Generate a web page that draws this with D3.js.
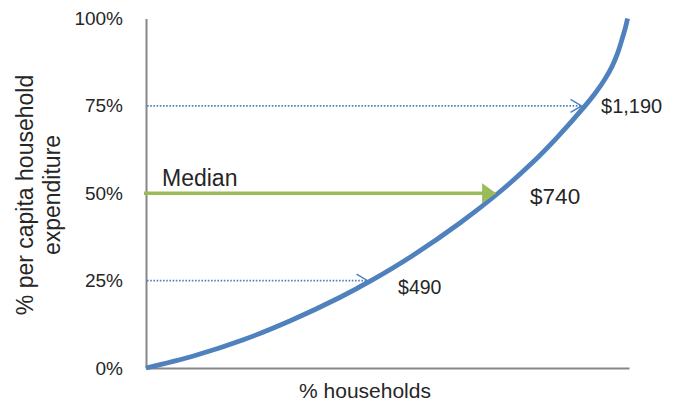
<!DOCTYPE html>
<html>
<head>
<meta charset="utf-8">
<script src="https://cdn.jsdelivr.net/npm/d3@7/dist/d3.min.js"></script>
<style>
  html, body { margin: 0; padding: 0; background: #ffffff; }
  svg { display: block; }
  text { font-family: "Liberation Sans", Arial, sans-serif; fill: #262626; }
</style>
</head>
<body>
<svg id="chart" width="681" height="405"></svg>
<script>
// Cumulative curve: share of households (x) vs share of per capita expenditure (y)
const householdPct = [0, 10, 20, 30, 40, 46.6, 55, 65, 72.9, 79.8, 85, 90.9, 93, 95, 96.5, 97.7, 98.7, 99.3, 99.7];
const expenditurePct = [0, 3.5, 8.0, 13.6, 20.1, 25.0, 32.0, 41.5, 50.0, 58.5, 65.8, 75.0, 78.6, 82.6, 86.3, 90.3, 94.7, 97.6, 100];

// Quartile markers and their expenditure values
const quartileLevels = [25, 50, 75];
const quartileLabels = ["$490", "$740", "$1,190"];
const medianLabel = "Median";

const yTickValues = [0, 25, 50, 75, 100];
const yTickLabels = ["0%", "25%", "50%", "75%", "100%"];
const xAxisTitle = "% households";
const yAxisTitle = ["% per capita household", "expenditure"];

const svg = d3.select("#chart");
const blue = "#4F81BD";
const green = "#9BBB59";
const axisGrey = "#878787";

const x = d3.scaleLinear().domain([0, 100]).range([146, 629]);
const y = d3.scaleLinear().domain([0, 100]).range([368, 18.5]);

const points = householdPct.map((d, i) => [d, expenditurePct[i]]);

// household share where the curve reaches a given expenditure share
function curveXAt(level) {
  for (let i = 1; i < points.length; i++) {
    const [x0, y0] = points[i - 1], [x1, y1] = points[i];
    if (level >= y0 && level <= y1) return x0 + (x1 - x0) * (level - y0) / (y1 - y0);
  }
  return 100;
}

// Axes (lines only, no tick marks)
const yAxis = d3.axisLeft(y).tickValues(yTickValues).tickSize(0).tickPadding(23)
  .tickFormat((d, i) => yTickLabels[i]);
const gy = svg.append("g").attr("transform", `translate(${x(0)},0)`).call(yAxis);
gy.select(".domain").attr("stroke", axisGrey).attr("stroke-width", 2);
gy.selectAll(".tick text").attr("font-size", 19).attr("fill", "#262626")
  .attr("font-family", "Liberation Sans, Arial, sans-serif");

const xAxis = d3.axisBottom(x).tickValues([]).tickSize(0);
const gx = svg.append("g").attr("transform", `translate(0,${y(0)})`).call(xAxis);
gx.select(".domain").attr("stroke", axisGrey).attr("stroke-width", 2);

// Axis titles
svg.append("text")
  .attr("x", 365).attr("y", 398)
  .attr("text-anchor", "middle").attr("font-size", 21)
  .text(xAxisTitle);

yAxisTitle.forEach((line, i) => {
  svg.append("text")
    .attr("transform", `translate(${33 + i * 27},195) rotate(-90)`)
    .attr("text-anchor", "middle").attr("font-size", 23)
    .text(line);
});

// Curve
const line = d3.line().x(d => x(d[0])).y(d => y(d[1])).curve(d3.curveCatmullRom.alpha(0.5));
svg.append("path")
  .datum(points)
  .attr("d", line)
  .attr("fill", "none")
  .attr("stroke", blue)
  .attr("stroke-width", 4.8)
  .attr("stroke-linecap", "butt");

// Quartile arrows
quartileLevels.forEach((level, i) => {
  const yy = y(level);
  const cx = x(curveXAt(level));
  if (level === 50) {
    const tip = cx - 2;
    svg.append("line")
      .attr("x1", x(0) - 2).attr("x2", tip - 12)
      .attr("y1", yy).attr("y2", yy)
      .attr("stroke", green).attr("stroke-width", 3.5);
    svg.append("path")
      .attr("d", `M${tip},${yy} L${tip - 14},${yy - 10} L${tip - 14},${yy + 10} Z`)
      .attr("fill", green);
  } else {
    const tip = cx - 3.5;
    svg.append("line")
      .attr("x1", x(0) + 1).attr("x2", tip - 1)
      .attr("y1", yy).attr("y2", yy)
      .attr("stroke", blue).attr("stroke-width", 1.6)
      .attr("stroke-dasharray", "1.6,1.6");
    svg.append("path")
      .attr("d", `M${tip - 11},${yy - 6.5} L${tip},${yy} L${tip - 11},${yy + 6.5}`)
      .attr("fill", "none").attr("stroke", blue).attr("stroke-width", 1.5);
  }
});

// Value labels beside the curve
const labelOffsets = [
  { dx: 27, dy: 13, size: 19.5 },
  { dx: 32, dy: 11, size: 22.5 },
  { dx: 16, dy: 7.5, size: 20 }
];
quartileLevels.forEach((level, i) => {
  const o = labelOffsets[i];
  svg.append("text")
    .attr("x", x(curveXAt(level)) + o.dx)
    .attr("y", y(level) + o.dy)
    .attr("font-size", o.size)
    .text(quartileLabels[i]);
});

svg.append("text")
  .attr("x", 162).attr("y", y(50) - 7)
  .attr("font-size", 23)
  .text(medianLabel);
</script>
</body>
</html>
